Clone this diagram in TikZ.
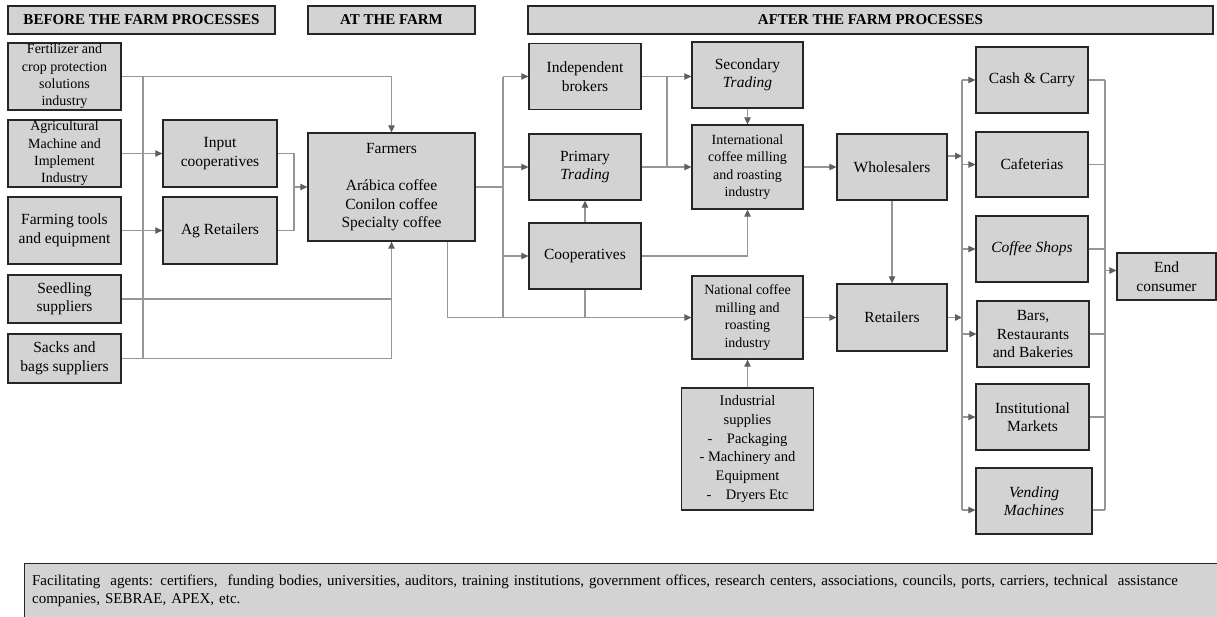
\documentclass[tikz,border=0pt]{standalone}
\usepackage{fontspec}
\setmainfont{Liberation Serif}
\usetikzlibrary{arrows.meta,calc}
\definecolor{boxgray}{RGB}{211,211,211}
\definecolor{linegray}{RGB}{150,150,150}
\definecolor{tipgray}{RGB}{95,95,95}

\begin{document}
\begin{tikzpicture}[x=1pt,y=-1pt,
  box/.style={draw=black!85,line width=1.3pt,fill=boxgray,align=center,inner sep=0pt,
    font=\fontsize{15.5}{18.5}\selectfont,minimum width=112pt,minimum height=66pt},
  smallbox/.style={box,font=\fontsize{14}{17.4}\selectfont},
  header/.style={box,font=\fontsize{15}{18}\selectfont\bfseries,minimum height=28pt},
  link/.style={draw=linegray,line width=1.2pt},
  arrow/.style={link,-{Triangle[length=7pt,width=6.5pt,color=tipgray]}}
]
\useasboundingbox (0,0) rectangle (1217,616);

% headers
\node[header,minimum width=267pt] (before) at (141.5,20) {BEFORE THE FARM PROCESSES};
\node[header,minimum width=167pt] (atfarm) at (391.5,20) {AT THE FARM};
\node[header,minimum width=685pt] (after) at (870.5,20) {AFTER THE FARM PROCESSES};

% before the farm
\node[smallbox,minimum width=113pt,minimum height=67pt] (fert) at (64.5,76.5) {Fertilizer and\\crop protection\\solutions\\industry};
\node[smallbox,minimum width=113pt,minimum height=67pt] (agri) at (64.5,153.5) {Agricultural\\Machine and\\Implement\\Industry};
\node[box,minimum width=113pt,minimum height=67pt] (tools) at (64.5,230.5) {Farming tools\\and equipment};
\node[box,minimum width=113pt,minimum height=48pt] (seed) at (64.5,299) {Seedling\\suppliers};
\node[box,minimum width=113pt,minimum height=49pt] (sacks) at (64.5,358.5) {Sacks and\\bags suppliers};
\node[box,minimum width=114pt,minimum height=67pt] (inputcoop) at (220,153.5) {Input\\cooperatives};
\node[box,minimum width=114pt,minimum height=67pt] (agret) at (220,230.5) {Ag Retailers};

% at the farm
\node[box,minimum width=167pt,minimum height=108pt] (farmers) at (391.5,187) {Farmers\\[19pt]Arábica coffee\\Conilon coffee\\Specialty coffee};

% after the farm
\node[box] (brokers) at (585,76.5) {Independent\\brokers};
\node[box] (primary) at (585,167) {Primary\\\textit{Trading}};
\node[box] (coops) at (585,256) {Cooperatives};
\node[box,minimum width=111pt] (secondary) at (747.5,75) {Secondary\\\textit{Trading}};
\node[smallbox,minimum width=111pt,minimum height=84pt] (intl) at (747.5,167) {International\\coffee milling\\and roasting\\industry};
\node[smallbox,minimum width=111pt,minimum height=83pt] (national) at (747.5,317.5) {National coffee\\milling and\\roasting\\industry};
\node[box,minimum width=132pt,minimum height=122pt,font=\fontsize{14.5}{18.8}\selectfont] (supplies) at (747.5,449) {Industrial\\supplies\\-\quad Packaging\\- Machinery and\\Equipment\\-\quad Dryers Etc};
\node[box,minimum width=110pt] (wholesalers) at (892,167) {Wholesalers};
\node[box,minimum width=110pt,minimum height=67pt] (retailers) at (892,317.5) {Retailers};
\node[box] (cash) at (1032,80) {Cash \& Carry};
\node[box,minimum height=65pt] (cafe) at (1032,164.5) {Cafeterias};
\node[box] (shops) at (1032,249) {\textit{Coffee Shops}};
\node[box] (bars) at (1033,334) {Bars,\\Restaurants\\and Bakeries};
\node[box,minimum width=113pt] (inst) at (1032.5,417) {Institutional\\Markets};
\node[box,minimum width=116pt] (vending) at (1034,501) {\textit{Vending}\\\textit{Machines}};
\node[box,minimum width=99pt,minimum height=47pt] (endc) at (1166.5,276.5) {End\\consumer};

% facilitating agents
\node[box,anchor=north west,minimum width=1205pt,minimum height=54pt,text width=1190pt,align=left,
  font=\fontsize{15}{18.5}\selectfont] (facil) at (24,563) {Facilitating\ \ agents: certifiers,\ \ funding bodies, universities, auditors, training institutions, government offices, research centers, associations, councils, ports, carriers, technical\ \ assistance\\companies, SEBRAE, APEX, etc.};

% bus lines
\coordinate (lbus) at (143,0);
\coordinate (ljoin) at (294,0);
\coordinate (mbus) at (503,0);
\coordinate (tbus) at (667,0);
\coordinate (rbus) at (962,0);
\coordinate (obus) at (1105,0);
\coordinate (wout) at ([yshift=11pt]wholesalers.east);
\coordinate (vin) at ([yshift=-9pt]vending.west);
\coordinate (vout) at ([yshift=-9pt]vending.east);
\coordinate (ein) at ([yshift=6pt]endc.west);

% inputs to the farm
\draw[link] (fert.east -| lbus) -- (sacks.east -| lbus);
\draw[arrow] (fert.east) -| (farmers.north);
\draw[arrow] (agri) -- (inputcoop);
\draw[arrow] (tools) -- (agret);
\draw[link] (seed.east) -- (seed.east -| farmers.south);
\draw[arrow] (sacks.east) -| (farmers.south);
\draw[link] (inputcoop.east) -| (ljoin |- agret.east) -- (agret.east);
\draw[arrow] (ljoin |- farmers.west) -- (farmers.west);

% farm outputs
\draw[link] (farmers.east) -- (farmers.east -| mbus);
\draw[link] (brokers.west -| mbus) -- (national.west -| mbus);
\draw[arrow] (brokers.west -| mbus) -- (brokers.west);
\draw[arrow] (primary.west -| mbus) -- (primary.west);
\draw[arrow] (coops.west -| mbus) -- (coops.west);
\draw[arrow] ([xshift=-28pt]farmers.south east) |- (national.west);
\draw[link] (coops.south) -- (coops.south |- national.west);
\draw[arrow] (coops.north) -- (primary.south);

% trading and industry
\draw[arrow] (brokers.east) -- (brokers.east -| secondary.west);
\draw[link] (brokers.east -| tbus) -- (primary.east -| tbus);
\draw[arrow] (primary.east) -- (intl.west);
\draw[arrow] (secondary.south) -- (intl.north);
\draw[arrow] (coops.east) -| (intl.south);
\draw[arrow] (supplies.north) -- (national.south);
\draw[arrow] (intl.east) -- (wholesalers.west);
\draw[arrow] (national.east) -- (retailers.west);
\draw[arrow] (wholesalers.south) -- (retailers.north);

% retail channels
\draw[arrow] (wout) -- (wout -| rbus);
\draw[arrow] (retailers.east) -- (retailers.east -| rbus);
\draw[link] (cash.west -| rbus) -- (vin -| rbus);
\draw[arrow] (cash.west -| rbus) -- (cash.west);
\draw[arrow] (cafe.west -| rbus) -- (cafe.west);
\draw[arrow] (shops.west -| rbus) -- (shops.west);
\draw[arrow] (bars.west -| rbus) -- (bars.west);
\draw[arrow] (inst.west -| rbus) -- (inst.west);
\draw[arrow] (vin -| rbus) -- (vin);

% to the end consumer
\draw[link] (cash.east) -- (cash.east -| obus);
\draw[link] (cafe.east) -- (cafe.east -| obus);
\draw[link] (shops.east) -- (shops.east -| obus);
\draw[link] (bars.east) -- (bars.east -| obus);
\draw[link] (inst.east) -- (inst.east -| obus);
\draw[link] (vout) -- (vout -| obus);
\draw[link] (cash.east -| obus) -- (vout -| obus);
\draw[arrow] (obus |- ein) -- (ein);
\end{tikzpicture}
\end{document}
